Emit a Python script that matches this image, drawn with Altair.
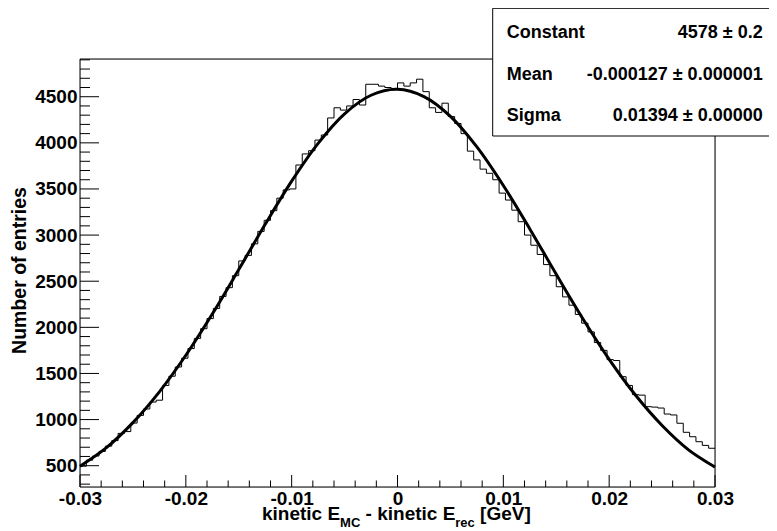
import altair as alt
import pandas as pd

# ---------------- data ----------------
bin_lo = -0.03
bin_width = 0.0006
counts = [
    495, 560, 605, 655, 712, 772, 850, 870, 962, 1045,
    1115, 1190, 1210, 1370, 1470, 1570, 1665, 1770, 1880, 1985,
    2095, 2205, 2335, 2430, 2560, 2720, 2780, 2905, 3040, 3160,
    3265, 3400, 3490, 3500, 3760, 3880, 3915, 4030, 4085, 4270,
    4380, 4355, 4400, 4470, 4410, 4635, 4635, 4615, 4600, 4590,
    4650, 4615, 4650, 4690, 4555, 4380, 4330, 4430, 4285, 4210,
    4100, 3910, 3815, 3715, 3670, 3600, 3455, 3380, 3270, 3145,
    3000, 2890, 2790, 2680, 2560, 2440, 2330, 2240, 2140, 2045,
    1950, 1835, 1750, 1650, 1640, 1465, 1370, 1270, 1265, 1140,
    1135, 1125, 1060, 1050, 960, 862, 814, 760, 720, 689,
]

fit_x = [-0.03, -0.0275, -0.025, -0.0225, -0.02, -0.0175, -0.015, -0.0125,
         -0.01, -0.0075, -0.005, -0.0025, 0.0, 0.0025, 0.005, 0.0075,
         0.01, 0.0125, 0.015, 0.0175, 0.02, 0.0225, 0.025, 0.0275, 0.03]
fit_y = [495, 696, 967, 1301, 1697, 2144, 2626, 3117,
         3585, 3995, 4315, 4516, 4580, 4501, 4287, 3956,
         3538, 3067, 2575, 2096, 1653, 1263, 936, 672, 485]

y_major_ticks = [500, 1000, 1500, 2000, 2500, 3000, 3500, 4000, 4500]
y_minor_ticks = [300, 400, 600, 700, 800, 900, 1100, 1200, 1300, 1400,
                 1600, 1700, 1800, 1900, 2100, 2200, 2300, 2400, 2600, 2700,
                 2800, 2900, 3100, 3200, 3300, 3400, 3600, 3700, 3800, 3900,
                 4100, 4200, 4300, 4400, 4600, 4700, 4800, 4900]
x_major_ticks = [-0.03, -0.02, -0.01, 0.0, 0.01, 0.02, 0.03]
x_minor_ticks = [-0.028, -0.026, -0.024, -0.022, -0.018, -0.016, -0.014, -0.012,
                 -0.008, -0.006, -0.004, -0.002, 0.002, 0.004, 0.006, 0.008,
                 0.012, 0.014, 0.016, 0.018, 0.022, 0.024, 0.026, 0.028]

stat_names = ["Constant", "Mean", "Sigma"]
stat_values = ["4578 \u00b1 0.2", "-0.000127 \u00b1 0.000001", "0.01394 \u00b1 0.00000"]

y_title = "Number of entries"
x_title_parts = ["kinetic E", "MC", "- kinetic E", "rec", "[GeV]"]

# ---------------- chart ----------------
FONT = "Liberation Sans"
W, H = 635, 428

edges = [bin_lo + i * bin_width for i in range(len(counts) + 1)]
hist_df = pd.DataFrame({"x": edges, "y": counts + [counts[-1]]})
fit_df = pd.DataFrame({"x": fit_x, "y": fit_y})

xs = alt.Scale(domain=[-0.03, 0.03], nice=False, zero=False)
ys = alt.Scale(domain=[269, 4909], nice=False, zero=False)

x_axis = alt.Axis(
    values=x_major_ticks, ticks=False, domain=False, grid=False, title=None,
    labelExpr="datum.value == 0 ? '0' : (datum.value < 0 ? '-' : '') + format(abs(datum.value), '.2f')",
    labelFont=FONT, labelFontSize=19, labelFontWeight="bold", labelColor="black",
    labelPadding=2, labelFlush=False, labelOverlap=False,
)
y_axis = alt.Axis(
    values=y_major_ticks, format="d", ticks=False, domain=False, grid=False,
    labelFont=FONT, labelFontSize=19, labelFontWeight="bold", labelColor="black",
    labelPadding=3, labelFlush=False, labelOverlap=False,
    title=y_title, titleFont=FONT, titleFontSize=19.5, titleFontWeight="bold",
    titleColor="black", titleX=-55, titleY=211, titleAngle=270,
    titleAlign="center", titleBaseline="alphabetic",
)

frame = alt.Chart(pd.DataFrame({"a": [0]})).mark_rect(
    fill=None, stroke="black", strokeWidth=1
).encode(x=alt.value(0), x2=alt.value(W), y=alt.value(0), y2=alt.value(H))

hist = alt.Chart(hist_df).mark_line(
    interpolate="step-after", color="black", strokeWidth=1
).encode(
    x=alt.X("x:Q", scale=xs, axis=x_axis),
    y=alt.Y("y:Q", scale=ys, axis=y_axis),
)

fit = alt.Chart(fit_df).mark_line(
    interpolate="catmull-rom", color="black", strokeWidth=3
).encode(
    x=alt.X("x:Q", scale=xs, axis=x_axis),
    y=alt.Y("y:Q", scale=ys, axis=y_axis),
)

def yticks(vals, length):
    return alt.Chart(pd.DataFrame({"y": vals})).mark_rule(color="black", strokeWidth=1).encode(
        y=alt.Y("y:Q", scale=ys, axis=y_axis), x=alt.value(0), x2=alt.value(length)
    )

def xticks(vals, length):
    return alt.Chart(pd.DataFrame({"x": vals})).mark_rule(color="black", strokeWidth=1).encode(
        x=alt.X("x:Q", scale=xs, axis=x_axis), y=alt.value(H), y2=alt.value(H - length)
    )

box = alt.Chart(pd.DataFrame({"a": [0]})).mark_rect(
    fill="white", stroke="black", strokeWidth=1
).encode(x=alt.value(412.7), x2=alt.value(700), y=alt.value(-50.7), y2=alt.value(77))

layers = [frame, hist, fit,
          yticks(y_major_ticks, 19), yticks(y_minor_ticks, 10),
          xticks(x_major_ticks, 12), xticks(x_minor_ticks, 6.5),
          box]

stat_rows = [-21, 21, 62]
for name, val, yy in zip(stat_names, stat_values, stat_rows):
    layers.append(
        alt.Chart(pd.DataFrame({"a": [0]})).mark_text(
            text=name, align="left", baseline="alphabetic", font=FONT,
            fontSize=18, fontWeight="bold", color="black"
        ).encode(x=alt.value(426.7), y=alt.value(yy))
    )
    layers.append(
        alt.Chart(pd.DataFrame({"a": [0]})).mark_text(
            text=val, align="right", baseline="alphabetic", font=FONT,
            fontSize=18, fontWeight="bold", color="black"
        ).encode(x=alt.value(682.7), y=alt.value(yy))
    )

# x title with subscripts
title_specs = [
    (x_title_parts[0], 182.0, 461.3, 19),
    (x_title_parts[1], 260.1, 468.3, 13),
    (x_title_parts[2], 285.6, 461.3, 19),
    (x_title_parts[3], 375.3, 468.3, 13),
    (x_title_parts[4], 400.1, 461.3, 19),
]
for txt, px, py, fs in title_specs:
    layers.append(
        alt.Chart(pd.DataFrame({"a": [0]})).mark_text(
            text=txt, align="left", baseline="alphabetic", font=FONT,
            fontSize=fs, fontWeight="bold", color="black"
        ).encode(x=alt.value(px), y=alt.value(py))
    )

chart = alt.layer(*layers).properties(
    width=W, height=H,
    autosize=alt.AutoSizeParams(type="none"),
    padding={"left": 72, "top": 51, "right": 54, "bottom": 44},
).configure_view(strokeWidth=0).configure(font=FONT, background="white")

chart.save("out.html", embed_options={"renderer": "svg", "actions": False})
